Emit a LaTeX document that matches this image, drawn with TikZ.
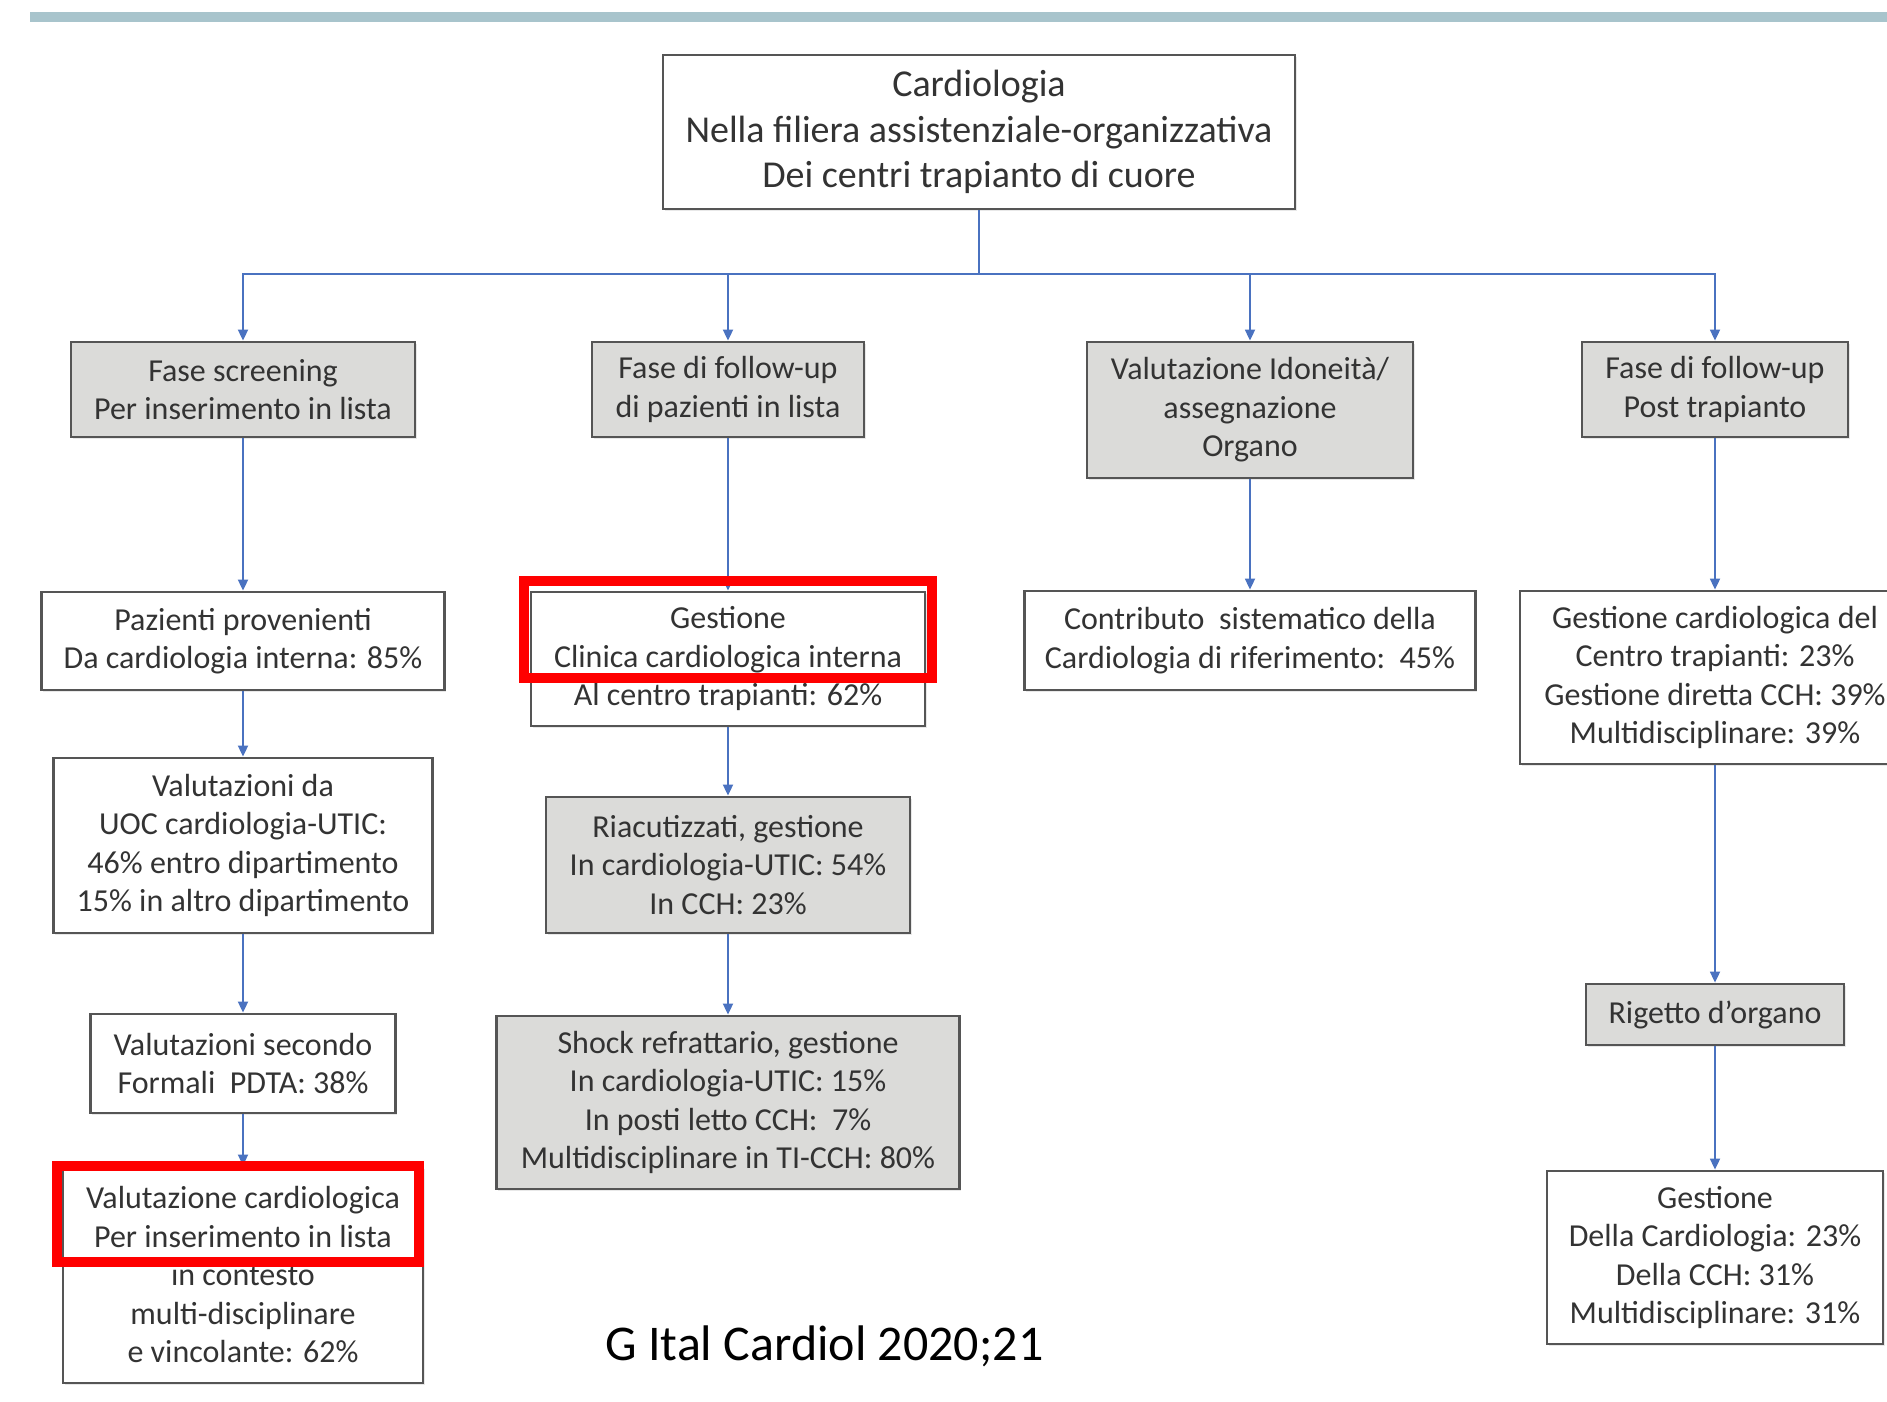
\documentclass[tikz,border=0pt]{standalone}
\usepackage{fontspec}
\setmainfont{Carlito}
\usetikzlibrary{arrows.meta,shadows}
\definecolor{barcol}{HTML}{A8C4CC}
\definecolor{conn}{HTML}{4A72C0}
\definecolor{bord}{HTML}{555555}
\definecolor{greyfill}{HTML}{DBDBD9}
\definecolor{txt}{HTML}{333333}
\definecolor{hl}{HTML}{FF0000}
\begin{document}
\begin{tikzpicture}[x=0.5pt,y=-0.5pt,
  box/.style={draw=bord, line width=1.4pt, fill=white, text=txt, align=center,
    inner sep=0pt, font=\fontsize{16}{19.25}\selectfont,
    drop shadow={opacity=0.18, shadow xshift=0.8pt, shadow yshift=-0.8pt}},
  gbox/.style={box, fill=greyfill},
  arr/.style={draw=conn, line width=0.9pt, -{Triangle[width=5pt,length=5.5pt]}},
  ln/.style={draw=conn, line width=0.9pt},
  hlbox/.style={draw=hl, line width=5.3pt}]
\useasboundingbox (0,0) rectangle (1887,1402);
\fill[barcol] (30,12) rectangle (1887,22);

% top
\node[box, minimum width=316pt, minimum height=77pt, font=\fontsize{19}{22.6}\selectfont] (top) at (979,132)
  {Cardiologia\\Nella filiera assistenziale-organizzativa\\Dei centri trapianto di cuore};
\coordinate (j) at (979,274);

% row 1
\node[gbox, minimum width=172pt, minimum height=47.5pt] (b1) at (243,389.5) {Fase screening\\Per inserimento in lista};
\node[gbox, minimum width=136pt, minimum height=47.5pt] (b2) at (728,389.5) {Fase di follow-up\\di pazienti in lista};
\node[gbox, minimum width=163pt, minimum height=68pt] (b3) at (1250,410) {Valutazione Idoneità/\\assegnazione\\Organo};
\node[gbox, minimum width=133pt, minimum height=47.5pt] (b4) at (1715,389.5) {Fase di follow-up\\Post trapianto};

% column 1
\node[box, minimum width=201.5pt, minimum height=49pt] (c1a) at (243,641) {Pazienti provenienti\\Da cardiologia interna: 85\%};
\node[box, minimum width=189.5pt, minimum height=87.5pt] (c1b) at (243,845.5) {Valutazioni da\\UOC cardiologia-UTIC:\\46\% entro dipartimento\\15\% in altro dipartimento};
\node[box, minimum width=152.5pt, minimum height=49.5pt] (c1c) at (243,1063.5) {Valutazioni secondo\\Formali\ \ PDTA: 38\%};
\node[box, minimum width=180pt, minimum height=108pt] (c1d) at (243,1275) {Valutazione cardiologica\\Per inserimento in lista\\in contesto\\multi-disciplinare\\e vincolante: 62\%};

% column 2
\node[box, minimum width=197pt, minimum height=67pt] (c2a) at (728,659) {Gestione\\Clinica cardiologica interna\\Al centro trapianti: 62\%};
\node[gbox, minimum width=182pt, minimum height=68pt] (c2b) at (728,865) {Riacutizzati, gestione\\In cardiologia-UTIC: 54\%\\In CCH: 23\%};
\node[gbox, minimum width=231.5pt, minimum height=86.5pt] (c2c) at (728,1102.5) {Shock refrattario, gestione\\In cardiologia-UTIC: 15\%\\In posti letto CCH:\ \ 7\%\\Multidisciplinare in TI-CCH: 80\%};

% column 3
\node[box, minimum width=225.5pt, minimum height=49.5pt] (c3a) at (1250,640.5) {Contributo\ \ sistematico della\\Cardiologia di riferimento:\ \ 45\%};

% column 4
\node[box, minimum width=195pt, minimum height=86.5pt] (c4a) at (1715,677.5) {Gestione cardiologica del\\Centro trapianti: 23\%\\Gestione diretta CCH: 39\%\\Multidisciplinare: 39\%};
\node[gbox, minimum width=129pt, minimum height=30.5pt] (c4b) at (1715,1014.5) {Rigetto d’organo};
\node[box, minimum width=168pt, minimum height=86.5pt] (c4c) at (1715,1257.5) {Gestione\\Della Cardiologia: 23\%\\Della CCH: 31\%\\Multidisciplinare: 31\%};

% connectors
\draw[ln] (top.south) -- (j);
\draw[arr] (j) -| (b1.north);
\draw[arr] (j) -| (b2.north);
\draw[arr] (j) -| (b3.north);
\draw[arr] (j) -| (b4.north);
\draw[arr] (b1.south) -- (c1a.north);
\draw[arr] (c1a.south) -- (c1b.north);
\draw[arr] (c1b.south) -- (c1c.north);
\draw[arr] (c1c.south) -- (c1d.north);
\draw[arr] (b2.south) -- (c2a.north);
\draw[arr] (c2a.south) -- (c2b.north);
\draw[arr] (c2b.south) -- (c2c.north);
\draw[arr] (b3.south) -- (c3a.north);
\draw[arr] (b4.south) -- (c4a.north);
\draw[arr] (c4a.south) -- (c4b.north);
\draw[arr] (c4b.south) -- (c4c.north);

% highlights
\draw[hlbox] (524,581) rectangle (932,678);
\draw[hlbox] (57,1166) rectangle (419,1262);

% caption
\node[anchor=base west, inner sep=0pt, font=\fontsize{25}{30}\selectfont, text=black] (cap) at (605,1360) {G Ital Cardiol 2020;21};
\end{tikzpicture}
\end{document}
